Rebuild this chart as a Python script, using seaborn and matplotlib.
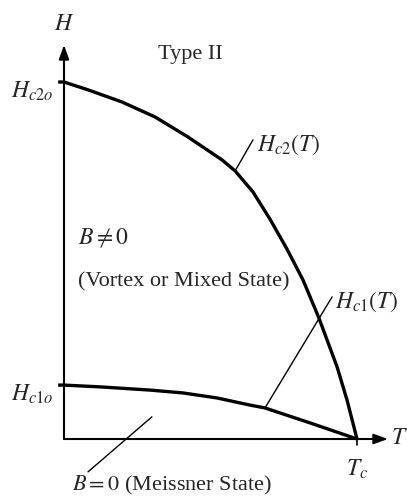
import numpy as np
import pandas as pd
import matplotlib
matplotlib.use("Agg")
import matplotlib.pyplot as plt
import seaborn as sns

# 相图数据 (T 以 Tc 为单位, H 以 Hc2o 为单位)
t_c2 = [-0.02, 0.0, 0.082, 0.198, 0.311, 0.423, 0.539, 0.584, 0.645, 0.703,
        0.761, 0.816, 0.870, 0.932, 0.966, 1.0]
h_c2 = [1.0, 1.0, 0.978, 0.944, 0.902, 0.846, 0.782, 0.751, 0.692, 0.616,
        0.532, 0.445, 0.339, 0.202, 0.109, 0.0]

t_c1 = [-0.02, 0.0, 0.123, 0.294, 0.406, 0.522, 0.635, 0.686, 0.737, 0.840, 1.0]
h_c1 = [0.151, 0.151, 0.146, 0.137, 0.129, 0.115, 0.095, 0.087, 0.073, 0.045, 0.0]

df = pd.concat([
    pd.DataFrame({"T": t_c2, "H": h_c2, "curve": "Hc2"}),
    pd.DataFrame({"T": t_c1, "H": h_c1, "curve": "Hc1"}),
])

sns.set_theme(style="white")
plt.rcParams["font.family"] = ["Liberation Serif", "DejaVu Serif"]
plt.rcParams["mathtext.fontset"] = "stix"

fig = plt.figure(figsize=(4.07, 4.97), dpi=100)
ax = fig.add_axes([0, 0, 1, 1])

sns.lineplot(data=df, x="T", y="H", units="curve", estimator=None, sort=False,
             color="black", linewidth=2.4, ax=ax,
             solid_joinstyle="round", solid_capstyle="butt")

# 坐标轴 (带箭头)
ax.annotate("", xy=(0, 1.104), xytext=(0, 0),
            arrowprops=dict(arrowstyle="-|>,head_length=0.7,head_width=0.25",
                            lw=1.5, color="black", shrinkA=0, shrinkB=0))
ax.annotate("", xy=(1.106, 0), xytext=(0, 0),
            arrowprops=dict(arrowstyle="-|>,head_length=0.7,head_width=0.25",
                            lw=1.5, color="black", shrinkA=0, shrinkB=0))
ax.plot([1.0, 1.0], [0, -0.018], color="black", lw=1.2)

# 引线
def leader(p0, p1):
    ax.annotate("", xy=p0, xytext=p1,
                arrowprops=dict(arrowstyle="-", lw=1.0, color="black",
                                shrinkA=0, shrinkB=0))

leader((t_c2[7], h_c2[7]), (0.645, 0.838))
leader((t_c1[7], h_c1[7]), (0.915, 0.398))
leader((0.30, 0.062), (0.082, -0.092))

fs = 17
ax.text(0, 1.16, r"$H$", ha="center", va="center", fontsize=fs)
ax.text(0.43, 1.076, "Type II", ha="center", va="center", fontsize=fs - 1)
ax.text(-0.035, 0.975, r"$H_{c2o}$", ha="right", va="center", fontsize=fs)
ax.text(-0.035, 0.125, r"$H_{c1o}$", ha="right", va="center", fontsize=fs)
ax.text(0.66, 0.825, r"$H_{c2}(T)$", ha="left", va="center", fontsize=fs)
ax.text(0.925, 0.385, r"$H_{c1}(T)$", ha="left", va="center", fontsize=fs)
ax.text(0.048, 0.563, r"$B \neq 0$", ha="left", va="center", fontsize=fs)
ax.text(0.048, 0.44, "(Vortex or Mixed State)", ha="left", va="center", fontsize=fs - 1)
ax.text(0.027, -0.129, r"$B = 0$ (Meissner State)", ha="left", va="center", fontsize=fs - 1)
ax.text(1.0, -0.085, r"$T_c$", ha="center", va="center", fontsize=fs)
ax.text(1.115, 0.0, r"$T$", ha="left", va="center", fontsize=fs)

ax.set_xlim(-64 / 293, 343 / 293)
ax.set_ylim(-58 / 357, 439 / 357)
ax.set_axis_off()
if ax.get_legend():
    ax.get_legend().remove()

plt.savefig("out.png", dpi=100)
